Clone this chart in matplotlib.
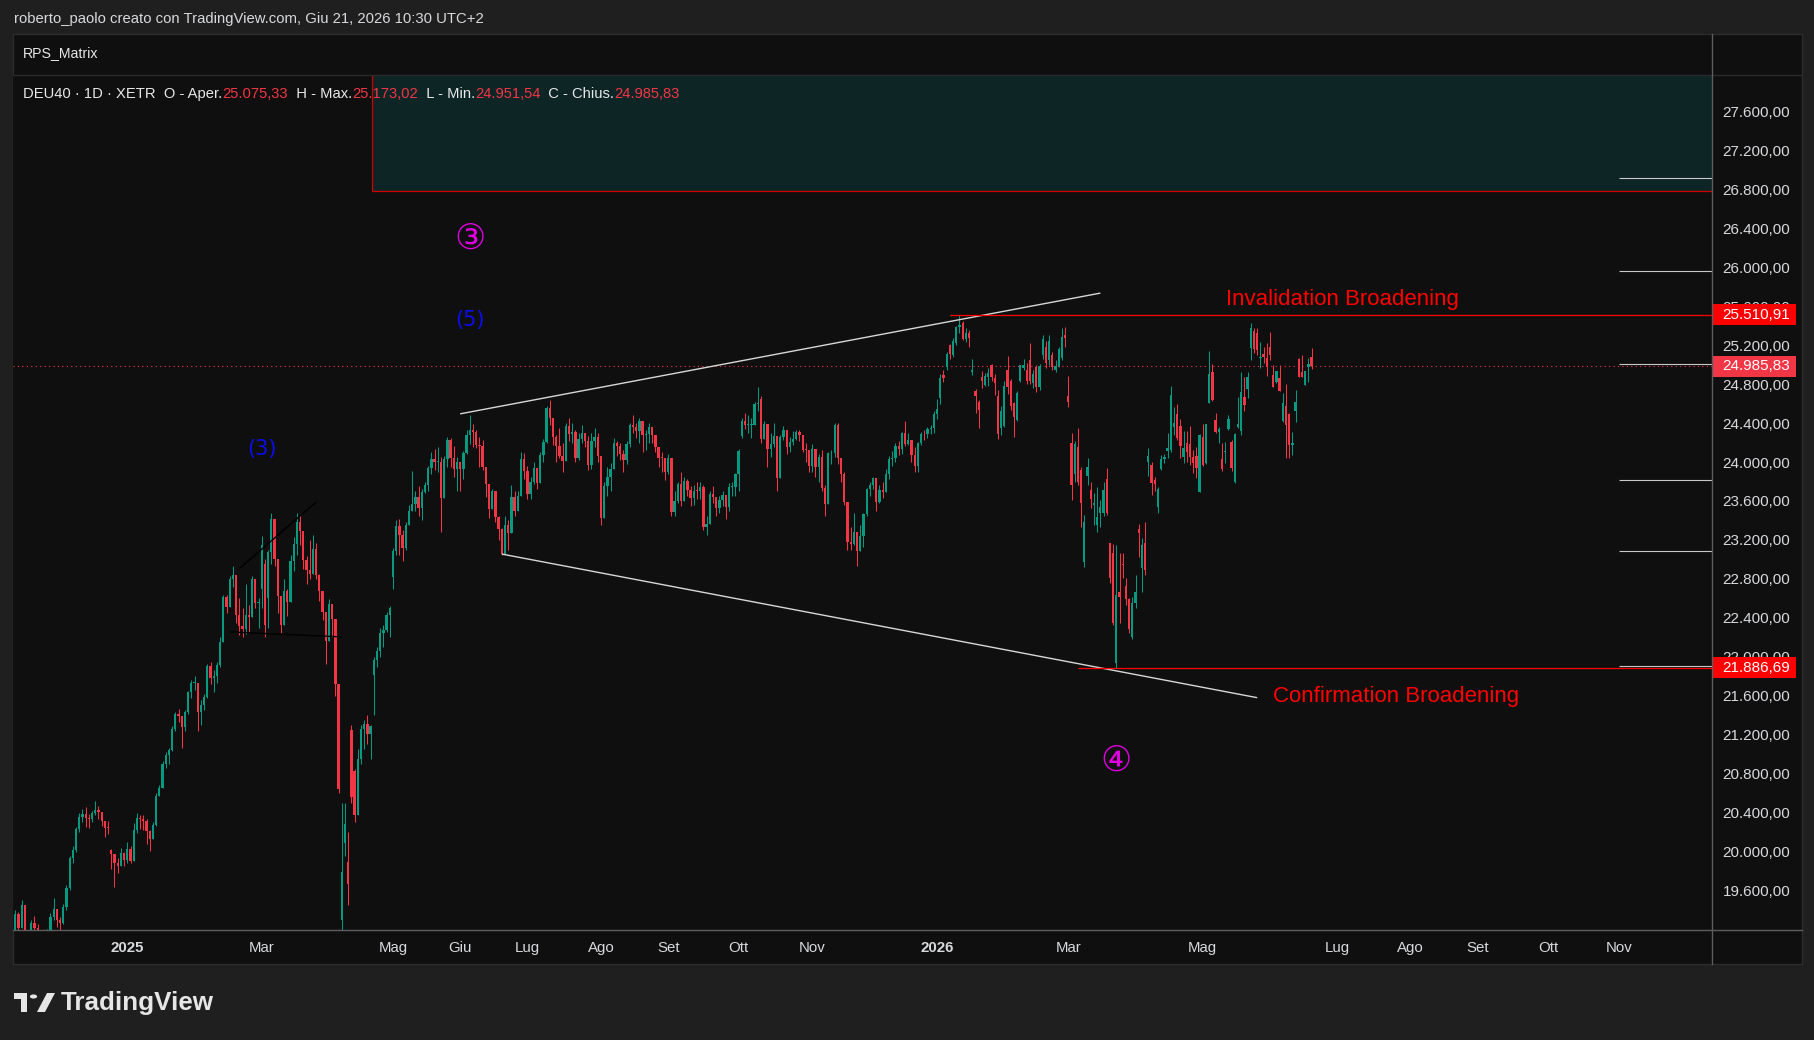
import matplotlib.pyplot as plt
from matplotlib.patches import Rectangle, Circle, Polygon
from matplotlib.lines import Line2D
from matplotlib.transforms import blended_transform_factory
import numpy as np
import pandas as pd

W, H = 1815, 1040
FONT = 'Liberation Sans'

# XETR holidays inside the shown window
holidays = ['2024-12-24', '2024-12-25', '2024-12-26', '2024-12-31', '2025-01-01',
            '2025-04-18', '2025-04-21', '2025-05-01', '2025-12-24', '2025-12-25',
            '2025-12-26', '2025-12-31', '2026-01-01', '2026-04-03', '2026-04-06',
            '2026-05-01']
first_day = '2024-11-06'

# daily bars Nov 2024 - Dec 2025 (open = previous close unless listed in gap_open_a)
close_a = [
    19039, 19362, 19215, 19448, 19033, 19003, 19263, 19211, 19189, 18988, 19004, 19146, 19323, 19406, 19296, 19262, 19426, 19626,
    19934, 20016, 20232, 20359, 20385, 20346, 20330, 20399, 20426, 20406, 20314, 20246, 20243, 19970, 19885, 19848, 19984, 19909,
    20025, 19906, 20216, 20340, 20330, 20317, 20215, 20133, 20271, 20574, 20655, 20903, 20990, 21042, 21254, 21411, 21394, 21282, 21430, 21637, 21727, 21732,
    21428, 21505, 21586, 21902, 21787, 21800, 21917, 22148, 22612, 22513, 22798, 22844, 22434, 22314, 22287, 22426, 22410, 22794, 22551, 22551,
    23147, 22327, 23081, 23419, 23009, 22621, 22329, 22676, 22567, 22987, 23154, 23380, 23288, 22999, 22892, 22852, 23109, 22839, 22679, 22461, 22163,
    22540, 22390, 21717, 20642, 19789, 20280, 19670, 20563, 20374, 20954, 21254, 21311, 21206, 21293, 21962, 22064, 22242, 22272, 22426, 22497,
    23087, 23345, 23249, 23116, 23352, 23499, 23567, 23638, 23527, 23696, 23767, 23935, 24036, 23999, 23999, 23630, 24028, 24226, 24038, 23933, 23997,
    23930, 24091, 24276, 24324, 24304, 24174, 24162, 23949, 23771, 23516, 23699, 23434, 23317, 23057, 23350, 23269, 23641, 23498, 23649, 24033, 23909,
    23673, 23790, 23934, 23787, 24073, 24206, 24550, 24456, 24255, 24161, 24060, 24009, 24371, 24290, 24308, 24042, 24240, 24296, 24218, 23970, 24217, 24262, 24065,
    23426, 23757, 23846, 23925, 24193, 24163, 24081, 24025, 24186, 24378, 24359, 24315, 24423, 24277, 24293, 24363, 24273, 24152, 24046, 24039, 23902,
    24037, 23487, 23595, 23770, 23597, 23807, 23718, 23632, 23703, 23698, 23748, 23329, 23359, 23674, 23639, 23527, 23611, 23666, 23534, 23739, 23745, 23881,
    24113, 24423, 24378, 24378, 24385, 24597, 24611, 24241, 24387, 24136, 24181, 24272, 23831, 24259, 24330, 24151, 24207, 24240, 24309, 24278, 24124, 24119, 23958,
    24132, 23949, 24049, 23734, 23569, 24088, 24088, 24381, 24041, 23877, 23591, 23180, 23162, 23278, 23091, 23239, 23465, 23726, 23767, 23836,
    23589, 23710, 23693, 23882, 24028, 24046, 24162, 24130, 24294, 24186, 24229, 24077, 23960, 24200, 24288, 24283, 24340, 24351, 24490,
]
high_a = [
    19500, 19400, 19380, 19500, 19420, 19100, 19300, 19340, 19260, 19180, 19100, 19200, 19370, 19520, 19390, 19330, 19460, 19660,
    19950, 20060, 20250, 20400, 20440, 20460, 20390, 20420, 20520, 20470, 20410, 20300, 20310, 20030, 19950, 19930, 20040, 19990,
    20100, 20060, 20290, 20400, 20380, 20370, 20330, 20220, 20300, 20600, 20680, 20930, 21020, 21060, 21290, 21430, 21460, 21320, 21450, 21650, 21760, 21800,
    21460, 21560, 21620, 21930, 21950, 21860, 21950, 22200, 22630, 22630, 22830, 22935, 22800, 22600, 22500, 22750, 22530, 22830, 22800, 22600,
    23240, 23000, 23100, 23475, 23370, 22900, 22600, 22800, 22700, 23050, 23230, 23476, 23460, 23200, 23030, 23200, 23250, 23170, 22850, 22660, 22350,
    22590, 22450, 22100, 21600, 20500, 20500, 20200, 21300, 20850, 21050, 21300, 21350, 21400, 21300, 22000, 22100, 22300, 22330, 22460, 22520,
    23120, 23400, 23420, 23300, 23380, 23560, 23911, 23700, 23750, 23720, 23800, 23960, 24100, 24130, 24150, 24050, 24060, 24260, 24250, 24160, 24050,
    23980, 24110, 24330, 24479, 24390, 24330, 24260, 24230, 23900, 23700, 23720, 23660, 23450, 23320, 23450, 23400, 23760, 23700, 23700, 24100, 24090,
    23960, 23850, 24000, 23900, 24100, 24240, 24580, 24639, 24400, 24280, 24350, 24200, 24400, 24450, 24400, 24330, 24300, 24380, 24300, 24270, 24300, 24350, 24300,
    24000, 23800, 23950, 23990, 24250, 24220, 24200, 24120, 24220, 24400, 24480, 24400, 24450, 24400, 24330, 24400, 24350, 24250, 24100, 24100, 24040,
    24080, 24000, 23700, 23800, 23900, 23850, 23830, 23750, 23760, 23800, 23800, 23760, 23450, 23700, 23750, 23600, 23650, 23700, 23650, 23780, 23800, 23890,
    24130, 24450, 24500, 24480, 24450, 24620, 24771, 24680, 24420, 24390, 24300, 24400, 24150, 24280, 24370, 24300, 24260, 24320, 24330, 24330, 24280, 24200, 24110,
    24190, 24050, 24080, 24120, 23760, 24100, 24120, 24400, 24400, 23990, 23900, 23450, 23330, 23480, 23230, 23350, 23480, 23730, 23800, 23850,
    23760, 23760, 23790, 23930, 24060, 24110, 24200, 24220, 24310, 24420, 24300, 24150, 24150, 24210, 24310, 24330, 24360, 24380, 24520,
]
low_a = [
    18970, 19020, 19150, 19230, 19000, 18900, 19000, 19150, 19080, 18850, 18920, 18990, 19100, 19300, 19220, 19140, 19260, 19400,
    19600, 19880, 20000, 20200, 20300, 20250, 20240, 20300, 20380, 20330, 20260, 20150, 20180, 19820, 19640, 19780, 19850, 19850,
    19880, 19880, 19920, 20190, 20230, 20220, 20080, 20010, 20140, 20260, 20570, 20660, 20860, 20900, 21030, 21240, 21330, 21060, 21240, 21410, 21580, 21660,
    21240, 21300, 21450, 21580, 21720, 21640, 21730, 21900, 22200, 22450, 22520, 22720, 22350, 22220, 22200, 22230, 22240, 22420, 22500, 22300,
    22500, 22200, 22300, 22950, 22930, 22450, 22240, 22400, 22420, 22610, 22880, 23050, 23150, 22900, 22750, 22800, 22850, 22800, 22570, 22380, 21930,
    22200, 22200, 21600, 20600, 18489, 19950, 19450, 20500, 20300, 20700, 20900, 21050, 21100, 20950, 21400, 21900, 22000, 22100, 22250, 22200,
    22700, 23050, 23050, 22980, 23100, 23380, 23500, 23500, 23450, 23400, 23680, 23700, 23880, 23920, 23900, 23285, 23800, 23950, 23950, 23850, 23700,
    23700, 23830, 24080, 24190, 24150, 24140, 23950, 23920, 23640, 23430, 23550, 23380, 23200, 23050, 23100, 23100, 23520, 23450, 23520, 23690, 23830,
    23620, 23620, 23770, 23720, 23800, 24000, 24200, 24380, 24180, 24000, 24040, 23900, 24050, 24220, 24200, 24000, 24020, 24200, 24150, 23920, 23930, 24150, 24000,
    23350, 23480, 23650, 23700, 23950, 24060, 24020, 23900, 23980, 24150, 24300, 24250, 24200, 24100, 24120, 24200, 24200, 24100, 23950, 23900, 23820,
    23880, 23450, 23450, 23580, 23550, 23600, 23650, 23550, 23560, 23620, 23620, 23300, 23250, 23450, 23580, 23450, 23480, 23550, 23420, 23500, 23650, 23650,
    23700, 24250, 24340, 24300, 24250, 24380, 24520, 24200, 24240, 23950, 24050, 24150, 23700, 23900, 24230, 24080, 24100, 24170, 24230, 24220, 24100, 24000, 23900,
    23900, 23850, 23800, 23700, 23450, 23750, 23980, 24050, 23980, 23800, 23560, 23100, 23100, 23150, 22935, 23150, 23130, 23450, 23650, 23720,
    23500, 23580, 23630, 23700, 23830, 23960, 24000, 24070, 24080, 24160, 24180, 24000, 23900, 23900, 24170, 24230, 24250, 24290, 24300,
]
gap_open_a = {'2024-11-06': 19420, '2024-12-19': 20020, '2025-03-03': 22700, '2025-03-04': 22950,
              '2025-03-05': 22600, '2025-04-07': 19300, '2025-04-08': 20090, '2025-04-09': 19890,
              '2025-04-10': 21250, '2025-04-11': 20830, '2025-04-23': 21810, '2025-05-02': 22820,
              '2025-10-02': 24266, '2025-10-10': 24650}

# daily bars Jan - Jun 2026
open_b = [
    24490, 24654, 24894, 24973, 25202, 25100, 25226, 25384, 25425, 25260, 25329, 24920, 24730, 24620, 24870, 24791, 24870, 24997, 24860, 24678, 24353,
    24370, 24945, 24832, 24603, 24432, 24832, 24970, 24945, 25050, 24808, 24980, 24767, 25099, 25185, 25048, 25100, 24950, 24990, 25072, 25300,
    24678, 24192, 23877, 24158, 23918, 22977, 23860, 23713, 23559, 23353, 23473, 23473, 23826, 23165, 23062, 21933, 22662, 22950, 22727, 22594, 22200, 22556,
    23309, 22908, 23165, 24004, 23970, 23812, 23542, 23928, 24030, 24117, 24124, 24363, 24493, 24370, 24055, 24199, 24185, 24055, 24062, 23696,
    24261, 23987, 24610, 24928, 24432, 24312, 24031, 24100, 24336, 24209, 23799, 24357, 24322, 24671, 24747, 25168, 25346, 25322, 25070, 25110,
    25065, 25178, 24894, 24825, 24860, 24425, 24576, 24493, 24180, 24528, 25055, 24928, 24791, 24980, 25075.33,
]
high_b = [
    24650, 24900, 24950, 25130, 25210, 25270, 25400, 25511, 25450, 25380, 25360, 25060, 24750, 24640, 24930, 24910, 24970, 25010, 24900, 24740, 24580,
    24830, 25090, 24850, 24620, 24730, 25000, 25060, 25020, 25226, 24950, 25000, 25010, 25308, 25240, 25300, 25130, 25050, 25180, 25376, 25385,
    24884, 24300, 24220, 24346, 23950, 23456, 24038, 23800, 23685, 23740, 23610, 23800, 23935, 23170, 23158, 23150, 23063, 23063, 22806, 22600, 22611, 22840,
    23364, 23216, 23388, 24141, 24000, 23850, 23740, 24072, 24083, 24295, 24781, 24569, 24596, 24439, 24322, 24322, 24370, 24124, 24158, 24290,
    24391, 24395, 25140, 25007, 24507, 24360, 24192, 24209, 24483, 24230, 24300, 24671, 24928, 24870, 24928, 25431, 25373, 25373, 25229, 25185,
    25219, 25339, 24997, 24938, 24997, 24712, 24801, 24500, 24305, 24740, 25065, 25099, 24940, 25065, 25173.02,
]
low_b = [
    24440, 24600, 24820, 24950, 25060, 25080, 25200, 25330, 25250, 25230, 25185, 24890, 24500, 24350, 24760, 24780, 24780, 24835, 24690, 24240, 24280,
    24360, 24700, 24530, 24260, 24420, 24820, 24950, 24800, 24800, 24760, 24720, 24740, 25060, 24970, 25000, 24950, 24920, 24980, 25050, 25185,
    24569, 23610, 23800, 23760, 23336, 22920, 23764, 23525, 23354, 23285, 23337, 23446, 23456, 22755, 22330, 21887, 22344, 22806, 22532, 22241, 22180, 22500,
    23021, 22669, 22840, 23857, 23662, 23700, 23473, 23918, 23994, 24038, 24100, 24278, 24226, 24038, 23987, 23997, 23970, 23884, 23833, 23690,
    23959, 23980, 24603, 24630, 24295, 24192, 23911, 23994, 24329, 23911, 23788, 24346, 24278, 24528, 24654, 25048, 25116, 25099, 24962, 25014,
    24884, 25048, 24767, 24808, 24733, 24415, 24038, 24038, 24072, 24415, 24870, 24870, 24791, 24825, 24951.54,
]
close_b = [
    24540, 24860, 24860, 25110, 25110, 25247, 25384, 25410, 25260, 25330, 25271, 24945, 24679, 24535, 24836, 24884, 24918, 24877, 24808, 24288, 24524,
    24781, 24767, 24575, 24466, 24706, 24993, 25000, 24836, 24832, 24904, 24774, 24986, 25263, 25014, 25246, 24980, 24990, 25160, 25281, 25277,
    24620, 23764, 24185, 23799, 23576, 23388, 23946, 23617, 23583, 23432, 23542, 23713, 23473, 22806, 22350, 22635, 22617, 22940, 22590, 22282, 22549, 22662,
    23275, 23148, 22891, 24062, 23788, 23778, 23723, 24028, 24055, 24141, 24688, 24397, 24243, 24165, 24141, 24107, 24055, 23987, 23935, 24278,
    23970, 24391, 24904, 24637, 24312, 24336, 23925, 24117, 24442, 23935, 24288, 24391, 24716, 24586, 24870, 25374, 25158, 25151, 25075, 25075,
    24980, 25099, 24774, 24935, 24733, 24603, 24380, 24175, 24195, 24613, 24877, 24877, 24935, 25007, 24985.83,
]

# drawings
zone_start, zone_bottom = '2025-04-22', 26780
upper_line = [('2025-06-02', 24495), ('2026-03-16', 25735)]
lower_line = [('2025-06-19', 23055), ('2026-05-27', 21580)]
wedge_top = [('2025-02-20', 22905), ('2025-03-26', 23590)]
wedge_base = [('2025-02-17', 22255), ('2025-04-07', 22204)]
invalidation = ('2026-01-08', 25510.91)
confirmation = ('2026-03-05', 21886.69)
right_levels_start = '2026-11-02'
right_levels = [26917, 25959, 25007, 23812, 23086, 21902]
wave_labels = [('③', '2025-06-05', 26293, '#e000e0', 25),
               ('(5)', '2025-06-05', 25460, '#0c0cf0', 15),
               ('(3)', '2025-03-03', 24129, '#0c0cf0', 15),
               ('④', '2026-03-23', 20932, '#e000e0', 25)]
notes = [('Invalidation Broadening', '2026-07-02', 25672),
         ('Confirmation Broadening', '2026-07-27', 21593)]

month_ticks = [('2025-01', '2025'), ('2025-03', 'Mar'), ('2025-05', 'Mag'), ('2025-06', 'Giu'),
               ('2025-07', 'Lug'), ('2025-08', 'Ago'), ('2025-09', 'Set'), ('2025-10', 'Ott'),
               ('2025-11', 'Nov'), ('2026-01', '2026'), ('2026-03', 'Mar'), ('2026-05', 'Mag'),
               ('2026-07', 'Lug'), ('2026-08', 'Ago'), ('2026-09', 'Set'), ('2026-10', 'Ott'),
               ('2026-11', 'Nov')]
price_ticks = list(range(19600, 27601, 400))

UP, DOWN = '#089981', '#f23645'
TXT = '#d8d9dc'


def it_num(v):
    s = f'{v:,.2f}'
    return s.replace(',', 'X').replace('.', ',').replace('X', '.')


def fx(px):
    return px / W


def fy(py):
    return 1 - py / H


days = pd.bdate_range(first_day, '2026-12-31')
days = days[~days.isin(pd.to_datetime(holidays))]
day_str = list(days.strftime('%Y-%m-%d'))


def pos(d):
    return day_str.index(d)


open_a = []
for k, d in enumerate(day_str[:len(close_a)]):
    open_a.append(gap_open_a.get(d, close_a[k - 1] if k else close_a[0]))

o = np.array(open_a + open_b, float)
c = np.array(close_a + close_b, float)
hi = np.maximum(np.array(high_a + high_b, float), np.maximum(o, c))
lo = np.minimum(np.array(low_a + low_b, float), np.minimum(o, c))
x = np.arange(len(c))

fig = plt.figure(figsize=(W / 100, H / 100), dpi=100, facecolor='#1f1f1f')
fig.add_artist(Rectangle((fx(13), fy(964)), fx(1802) - fx(13), fy(34) - fy(964),
                         transform=fig.transFigure, facecolor='#0f0f0f',
                         edgecolor='#2c2c2c', linewidth=1, zorder=-1))
ax = fig.add_axes([fx(13), fy(930), fx(1712) - fx(13), fy(75) - fy(930)])
ax.set_facecolor('#0f0f0f')
for s in ax.spines.values():
    s.set_visible(False)
ax.set_xlim(0.29, 531.1)
ax.set_ylim(19194, 27975)

# supply zone
ax.add_patch(Rectangle((pos(zone_start) + 0.3, zone_bottom), 600, 3000,
                       facecolor='#0e2526', edgecolor='#d00000', linewidth=0.9, zorder=0.5))

# last price dotted line
ax.axhline(c[-1], color=DOWN, linestyle=(0, (1, 3)), linewidth=0.8, zorder=1)

# candles
cols = np.where(c >= o, UP, DOWN)
ax.vlines(x, lo, hi, colors=cols, linewidth=0.75, zorder=2)
ax.bar(x, np.maximum(np.abs(c - o), 10), bottom=np.minimum(o, c), width=0.72,
       color=cols, linewidth=0, zorder=3)

# trend lines
for pts, col in [(upper_line, '#d8d8d8'), (lower_line, '#d8d8d8'),
                 (wedge_top, '#000000'), (wedge_base, '#000000')]:
    ax.plot([pos(pts[0][0]), pos(pts[1][0])], [pts[0][1], pts[1][1]],
            color=col, linewidth=1.0, zorder=4, solid_capstyle='butt')

for d, lvl in [invalidation, confirmation]:
    ax.hlines(lvl, pos(d), 600, color='#ff0000', linewidth=0.9, zorder=4)
ax.hlines(right_levels, pos(right_levels_start), 600, color='#c8c8c8', linewidth=0.8, zorder=4)

for s, d, p, col, size in wave_labels:
    ax.text(pos(d), p, s, color=col, fontsize=size, ha='center', va='center',
            family=['DejaVu Sans'], zorder=5)
for s, d, p in notes:
    ax.text(pos(d) + 0.5, p, s, color='#ff0000', fontsize=16, ha='center', va='center',
            family=FONT, zorder=5)

# price axis
ax.yaxis.tick_right()
ax.set_yticks(price_ticks)
ax.set_yticklabels([it_num(v) for v in price_ticks])
ax.tick_params(axis='y', length=0, pad=7.5, labelsize=11, labelcolor=TXT)
ax.set_xticks([day_str.index(next(d for d in day_str if d.startswith(m))) for m, _ in month_ticks])
ax.set_xticklabels([lab for _, lab in month_ticks])
ax.tick_params(axis='x', length=0, pad=8, labelsize=10.8, labelcolor=TXT)
for t in ax.get_yticklabels() + ax.get_xticklabels():
    t.set_family(FONT)
for t, (_, lab) in zip(ax.get_xticklabels(), month_ticks):
    if lab.isdigit():
        t.set_fontweight('bold')

# price labels on the axis
bt = blended_transform_factory(ax.transAxes, ax.transData)
box_h = 21 * (27975 - 19194) / 855
for val, col in [(invalidation[1], '#ff0000'), (c[-1], DOWN), (confirmation[1], '#ff0000')]:
    ax.add_patch(Rectangle((1.0006, val - box_h / 2), 0.0487, box_h, transform=bt,
                           facecolor=col, edgecolor='none', clip_on=False, zorder=6))
    ax.text(1.0063, val, it_num(val), transform=bt, color='white', fontsize=11,
            ha='left', va='center', family=FONT, zorder=7, clip_on=False)

# frame lines
for xs, ys, col in [([13, 1802], [75, 75], '#2a2a2a'),
                    ([13, 1802], [930, 930], '#5d5d5d'),
                    ([1712, 1712], [34, 964], '#5d5d5d')]:
    fig.add_artist(Line2D([fx(v) for v in xs], [fy(v) for v in ys],
                          transform=fig.transFigure, color=col, linewidth=1, zorder=5))

# header texts
fig.text(fx(14), fy(19.5), 'roberto_paolo creato con TradingView.com, Giu 21, 2026 10:30 UTC+2',
         color=TXT, fontsize=10.7, va='center', family=FONT)
fig.text(fx(23), fy(53), 'RPS_Matrix', color='#e8e8e8', fontsize=10.2, va='center', family=FONT)

renderer = fig.canvas.get_renderer()
parts = [('DEU40 · 1D · XETR  O - Aper.', '#e8e8e8'), (it_num(o[-1]), DOWN),
         ('  H - Max.', '#e8e8e8'), (it_num(hi[-1]), DOWN),
         ('  L - Min.', '#e8e8e8'), (it_num(lo[-1]), DOWN),
         ('  C - Chius.', '#e8e8e8'), (it_num(c[-1]), DOWN)]
xpos = fx(23)
for s, col in parts:
    t = fig.text(xpos, fy(94), s, color=col, fontsize=10.6, va='center', family=FONT)
    xpos = t.get_window_extent(renderer=renderer).x1 / fig.bbox.width

# TradingView logo
logo = '#e6e6e6'
fig.add_artist(Rectangle((fx(14), fy(999)), fx(27) - fx(14), fy(993) - fy(999),
                         transform=fig.transFigure, facecolor=logo, edgecolor='none'))
fig.add_artist(Rectangle((fx(21), fy(1012)), fx(27) - fx(21), fy(993) - fy(1012),
                         transform=fig.transFigure, facecolor=logo, edgecolor='none'))
fig.add_artist(Circle((fx(33.5), fy(996.5)), 3.6 / W, transform=fig.transFigure,
                      facecolor=logo, edgecolor='none'))
fig.add_artist(Polygon([(fx(37), fy(1012)), (fx(45), fy(1012)), (fx(55), fy(993)), (fx(47), fy(993))],
                       closed=True, transform=fig.transFigure, facecolor=logo, edgecolor='none'))
fig.text(fx(61), fy(1003), 'TradingView', color=logo, fontsize=18.7, fontweight='bold',
         va='center', family=FONT)

fig.savefig('out.png', dpi=100, facecolor=fig.get_facecolor())
